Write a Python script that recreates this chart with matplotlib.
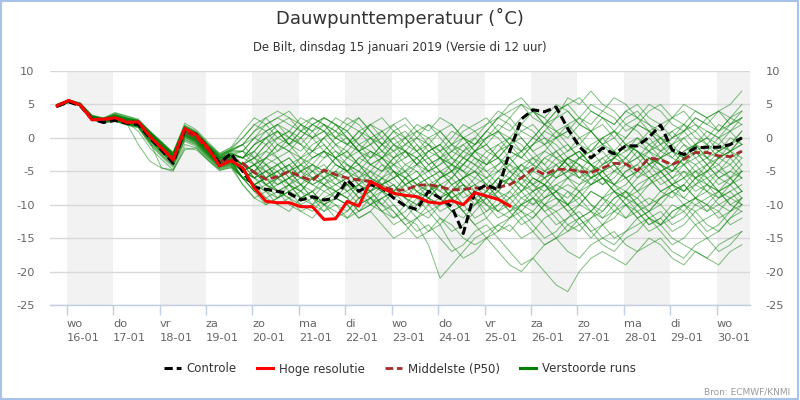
import numpy as np
import matplotlib
matplotlib.use('Agg')
import matplotlib.pyplot as plt
from matplotlib.lines import Line2D
from matplotlib.patches import Rectangle

# ---------------- data ----------------
# lead times (hours after 15-01 12 UTC), 6-hourly
lead_hours = list(range(6, 361, 6))
day_names = ['wo', 'do', 'vr', 'za', 'zo', 'ma', 'di', 'wo', 'do', 'vr', 'za', 'zo', 'ma', 'di', 'wo']
day_dates = ['16-01', '17-01', '18-01', '19-01', '20-01', '21-01', '22-01', '23-01',
             '24-01', '25-01', '26-01', '27-01', '28-01', '29-01', '30-01']
y_ticks = [10, 5, 0, -5, -10, -15, -20, -25]

controle = [4.7, 5.4, 4.8, 2.8, 2.3, 2.6, 2.2, 2.0, 0.0, -1.8, -3.8, 1.2, 0.5, -1.5, -3.8, -2.3,
            -5.0, -7.4, -7.7, -8.0, -8.3, -9.3, -8.8, -9.3, -9.0, -6.3, -8.0, -7.0, -7.5, -9.0,
            -10.2, -10.7, -8.0, -9.0, -10.3, -14.3, -8.0, -7.0, -7.8, -2.0, 2.8, 4.2, 3.9, 4.6,
            1.4, -1.3, -3.0, -1.5, -2.4, -1.2, -1.2, 0.1, 1.9, -1.8, -2.5, -1.5, -1.4, -1.4, -1.0, 0.0]

hoge_resolutie = [4.8, 5.6, 4.9, 2.7, 2.8, 3.0, 2.3, 2.4, 0.2, -1.5, -3.3, 1.4, 0.4, -1.5, -4.2, -3.4,
                  -4.5, -7.5, -9.5, -9.7, -9.7, -10.3, -10.3, -12.2, -12.1, -9.5, -10.2, -6.5, -7.5,
                  -8.3, -8.6, -8.8, -9.6, -9.8, -9.4, -10.0, -8.2, -8.7, -9.2, -10.2]

middelste = [4.8, 5.5, 5.0, 3.0, 2.6, 3.0, 2.5, 2.2, 0.3, -1.5, -3.0, 1.0, 0.0, -1.8, -3.6, -3.0,
             -3.8, -5.2, -6.2, -5.8, -5.0, -5.8, -6.4, -4.8, -5.5, -6.0, -6.3, -6.5, -7.3, -7.8,
             -7.8, -7.1, -7.0, -7.3, -7.8, -7.7, -7.5, -7.5, -7.4, -7.0, -6.0, -4.6, -5.5, -4.7,
             -4.7, -5.0, -5.2, -4.5, -3.8, -3.9, -4.9, -3.0, -3.3, -4.0, -3.2, -2.2, -2.2, -2.7, -2.8, -2.0]

verstoorde_runs = [
    [4.9,5.6,5.1,3.2,2.8,3.4,2.9,2.6,0.8,-0.9,-2.6,1.5,0.6,-1.2,-2.8,-1.9, -2,0,1,2, 1,3,2,1, 0,1,-1,-2, -3,-1,0,2, 1,3,2,0, -1,1,3,4, 5,3,2,4, 5,6,4,3, 2,4,3,1, 2,3,5,4, 3,4,5,7],
    [4.7,5.4,4.9,2.9,2.4,2.7,2.1,1.8,-0.2,-2.0,-3.5,0.4,-0.6,-2.4,-4.2,-3.8, -4,-5,-3,-2, 0,2,1,-1, -3,-2,-4,-6, -7,-5,-6,-8, -9,-10,-8,-7, -9,-12,-14,-13, -15,-14,-12,-11, -10,-12,-14,-16, -17,-15,-14,-12, -13,-15,-16,-17, -18,-16,-15,-14],
    [4.8,5.5,5.0,3.1,2.7,3.2,2.6,2.3,0.5,-1.2,-2.8,1.2,0.3,-1.6,-3.3,-2.6, -4,-6,-7,-6, -5,-4,-6,-7, -8,-7,-6,-8, -10,-12,-11,-9, -8,-7,-9,-11, -10,-8,-6,-7, -5,-3,-4,-2, -1,-3,-2,0, 1,-1,-2,-4, -3,-2,0,1, -1,-2,-1,0],
    [4.6,5.3,4.8,2.7,2.3,2.5,1.9,1.5,-1.0,-2.8,-4.4,-0.5,-1.3,-3.0,-4.6,-4.2, -6,-8,-9,-10, -9,-11,-10,-8, -9,-10,-12,-11, -13,-15,-14,-12, -11,-13,-16,-18, -17,-15,-13,-12, -10,-9,-11,-13, -12,-10,-8,-9, -7,-6,-8,-10, -9,-7,-6,-5, -7,-8,-6,-5],
    [5.0,5.7,5.2,3.4,3.0,3.8,3.2,2.7,1.0,-0.6,-2.2,1.9,1.0,-0.8,-2.4,-1.5, 0,2,3,1, -1,0,2,3, 2,0,-2,-1, -3,-4,-2,-3, -5,-4,-3,-1, 0,-2,-3,-1, 1,2,0,-1, -3,-2,-4,-5, -4,-6,-5,-3, -4,-6,-8,-7, -5,-4,-6,-8],
    [4.8,5.4,4.9,2.8,2.5,2.9,2.3,1.0,-1.5,-3.2,-4.8,-1.0,-1.5,-3.2,-4.8,-4.5, -7,-9,-8,-10, -11,-9,-8,-10, -12,-11,-9,-8, -7,-9,-10,-12, -14,-13,-11,-10, -8,-9,-7,-6, -8,-10,-9,-7, -6,-8,-10,-11, -9,-8,-10,-12, -11,-13,-12,-10, -11,-9,-8,-10],
    [4.9,5.5,5.0,3.0,2.6,3.1,2.7,2.4,0.6,-1.1,-2.7,1.3,0.5,-1.4,-3.0,-2.2, -3,-2,-4,-5, -4,-6,-5,-3, -2,-4,-5,-3, -1,0,-2,-4, -3,-5,-6,-4, -2,-3,-5,-6, -8,-7,-5,-4, -6,-5,-3,-2, -4,-3,-1,0, -2,-3,-1,-2, -4,-3,-2,-1],
    [4.7,5.4,5.0,3.0,2.5,2.8,2.2,-1.0,-3.5,-4.5,-4.8,-1.8,-1.5,-3.4,-4.9,-4.4, -6,-5,-7,-8, -7,-9,-10,-9, -8,-7,-9,-10, -11,-10,-12,-14, -13,-15,-17,-16, -14,-13,-15,-17, -19,-18,-16,-15, -17,-18,-16,-15, -14,-16,-17,-15, -16,-18,-19,-17, -18,-19,-17,-16],
    [4.8,5.6,5.1,3.3,2.9,3.5,3.0,2.5,0.9,-0.7,-2.4,1.7,0.8,-1.0,-2.6,-1.7, -1,1,2,3, 2,1,3,2, 0,-1,1,2, 0,-2,-1,1, 2,0,-2,-3, -1,0,2,1, 3,4,2,0, 1,3,5,4, 6,5,3,2, 1,3,4,2, 1,0,2,3],
    [4.8,5.5,4.9,3.0,2.6,3.0,2.4,2.1,0.1,-1.7,-3.2,0.8,-0.2,-2.0,-3.8,-3.2, -5,-6,-5,-7, -6,-5,-7,-8, -7,-6,-5,-6, -8,-9,-8,-7, -6,-8,-9,-8, -7,-6,-8,-9, -7,-5,-6,-8, -9,-7,-6,-5, -7,-8,-6,-4, -5,-7,-6,-4, -3,-5,-6,-4],
    [4.9,5.6,5.0,3.1,2.7,3.0,2.5,2.3,0.4,-1.4,-2.9,1.1,0.1,-1.7,-3.5,-2.9, -4,-3,-1,0, 1,-1,-2,0, 2,1,-1,-3, -2,0,1,-1, -3,-2,0,2, 1,-1,-3,-5, -4,-6,-7,-5, -3,-4,-6,-5, -3,-1,-2,-4, -6,-5,-3,-2, -4,-6,-5,-3],
    [4.7,5.4,4.9,2.9,2.5,2.8,2.3,2.0,0.0,-1.9,-3.6,0.2,-0.8,-2.6,-4.4,-4.0, -6,-7,-6,-8, -9,-10,-9,-7, -8,-9,-11,-10, -9,-11,-13,-12, -10,-9,-11,-12, -10,-8,-9,-11, -13,-12,-10,-9, -11,-13,-12,-10, -8,-9,-11,-10, -8,-7,-9,-10, -9,-8,-10,-11],
    [5.0,5.6,5.1,3.2,2.8,3.3,2.8,2.4,0.7,-1.0,-2.5,1.4,0.4,-1.3,-3.1,-2.4, -3,-4,-3,-1, -2,-4,-3,-2, -4,-5,-3,-2, -4,-6,-5,-3, -2,-1,-3,-4, -2,0,1,-1, -2,0,2,1, -1,-3,-2,0, 1,-1,-3,-2, 0,1,-1,-3, -2,0,1,-1],
    [4.8,5.5,5.0,3.0,2.6,3.0,2.6,2.2,0.2,-1.6,-3.1,0.9,-0.1,-1.9,-3.7,-3.1, -5,-4,-6,-5, -7,-8,-6,-5, -6,-8,-7,-9, -10,-8,-7,-9, -11,-10,-8,-6, -5,-7,-8,-6, -4,-3,-5,-6, -4,-5,-7,-6, -8,-7,-5,-6, -8,-9,-7,-5, -6,-8,-7,-5],
    [4.9,5.5,5.1,3.1,2.7,3.1,2.6,2.3,0.5,-1.3,-2.9,1.0,0.2,-1.6,-3.4,-2.8, -3,-1,0,-2, -1,1,0,-2, -3,-1,-2,-4, -5,-3,-2,-4, -6,-5,-7,-9, -8,-10,-12,-11, -9,-8,-10,-12, -14,-13,-15,-13, -12,-10,-11,-13, -12,-14,-13,-11, -10,-12,-11,-9],
    [4.6,5.3,4.8,2.8,2.4,2.6,2.0,1.7,-0.5,-2.3,-3.9,0.0,-0.9,-2.7,-4.3,-3.9, -5,-7,-8,-7, -6,-8,-9,-11, -10,-12,-11,-9, -8,-10,-12,-13, -16,-21,-19,-17, -15,-14,-13,-14, -12,-11,-13,-15, -14,-12,-11,-13, -15,-14,-12,-11, -13,-12,-10,-9, -11,-10,-9,-8],
    [4.8,5.5,5.0,3.0,2.7,3.2,2.7,2.3,0.4,-1.3,-2.9,1.1,0.3,-1.5,-3.3,-2.6, -2,0,2,3, 4,2,1,3, 2,0,-2,-1, 1,2,0,-2, -4,-3,-1,0, -2,-4,-3,-1, 0,-2,-4,-6, -5,-3,-4,-6, -7,-5,-4,-2, -3,-5,-4,-6, -5,-3,-2,-4],
    [4.7,5.4,4.9,2.9,2.5,2.9,2.4,2.0,0.1,-1.8,-3.4,0.6,-0.4,-2.2,-4.0,-3.5, -6,-8,-7,-6, -8,-9,-8,-10, -9,-7,-8,-10, -9,-8,-6,-7, -9,-10,-8,-7, -9,-11,-10,-8, -6,-7,-9,-8, -6,-4,-5,-7, -6,-4,-3,-5, -7,-6,-4,-3, -5,-7,-6,-8],
    [4.9,5.6,5.1,3.2,2.8,3.3,2.8,2.5,0.7,-0.9,-2.5,1.6,0.7,-1.1,-2.9,-2.0, -2,-3,-1,1, 0,-1,1,2, 1,3,2,0, -1,1,0,-2, -1,1,2,0, -2,-1,1,3, 5,4,2,3, 6,5,7,5, 4,2,3,5, 4,2,1,3, 2,4,3,5],
    [4.8,5.5,4.9,3.0,2.6,2.9,2.4,2.1,0.2,-1.6,-3.2,0.8,-0.2,-2.0,-3.7,-3.2, -5,-4,-5,-6, -5,-7,-6,-5, -7,-6,-8,-7, -6,-5,-7,-8, -7,-9,-8,-10, -12,-11,-9,-10, -12,-14,-16,-15, -13,-12,-14,-13, -11,-10,-12,-14, -13,-11,-10,-12, -14,-13,-11,-10],
    [5.0,5.7,5.2,3.3,2.9,3.6,3.1,2.6,0.9,-0.8,-2.3,1.8,0.9,-0.9,-2.5,-1.8, -1,-3,-2,0, 1,0,-2,-3, -1,0,-2,-4, -3,-1,-2,-3, -5,-4,-2,-1, -3,-5,-4,-2, -3,-1,0,-2, -4,-3,-1,0, -2,-4,-3,-1, 0,-2,-3,-1, 1,0,-2,-3],
    [4.7,5.4,4.9,2.8,2.4,2.7,2.2,1.8,-0.3,-2.1,-3.7,0.3,-0.6,-2.5,-4.1,-3.7, -5,-6,-8,-9, -8,-7,-9,-10, -11,-12,-10,-9, -11,-13,-12,-10, -9,-11,-10,-8, -7,-9,-11,-10, -8,-6,-7,-9, -10,-8,-6,-5, -7,-9,-8,-6, -5,-7,-8,-6, -4,-6,-7,-5],
    [4.8,5.5,5.0,3.1,2.6,3.0,2.5,2.2,0.3,-1.5,-3.0,1.0,0.0,-1.8,-3.6,-3.0, -4,-3,-5,-6, -4,-3,-5,-6, -5,-3,-4,-6, -7,-6,-4,-5, -7,-8,-6,-4, -5,-7,-9,-8, -10,-11,-9,-8, -10,-12,-11,-9, -8,-10,-12,-11, -9,-8,-10,-9, -7,-8,-10,-9],
    [4.9,5.6,5.0,3.2,2.8,3.2,2.7,2.4,0.6,-1.1,-2.7,1.3,0.4,-1.4,-3.1,-2.4, -3,-1,1,2, 0,-1,-3,-2, 0,2,3,1, -1,-3,-5,-4, -2,-1,-3,-5, -6,-4,-3,-5, -7,-8,-6,-5, -3,-2,-4,-6, -5,-3,-1,-2, -4,-5,-3,-1, -2,-3,-1,1],
    [4.7,5.3,4.8,2.7,2.3,2.5,2.0,1.6,-0.8,-2.6,-4.2,-0.3,-1.1,-2.9,-4.5,-4.1, -7,-9,-10,-9, -8,-10,-11,-9, -10,-11,-9,-8, -10,-11,-13,-15, -14,-12,-13,-15, -16,-15,-17,-19, -20,-18,-20,-22, -23,-20,-18,-17, -18,-19,-17,-16, -15,-17,-18,-16, -15,-17,-16,-14],
    [4.8,5.5,5.0,3.0,2.6,3.1,2.6,2.2,0.4,-1.4,-3.0,1.0,0.1,-1.7,-3.5,-2.9, -4,-2,0,1, -1,-2,0,1, -1,-3,-2,0, 1,-1,-3,-2, -4,-6,-5,-3, -2,0,1,-1, 2,4,3,1, 0,2,4,3, 1,0,2,1, -1,1,2,0, -1,1,3,2],
    [4.9,5.5,5.1,3.1,2.7,3.1,2.6,2.3,0.5,-1.2,-2.8,1.2,0.3,-1.5,-3.2,-2.6, -4,-5,-4,-6, -7,-5,-4,-6, -7,-8,-7,-5, -6,-8,-9,-7, -6,-5,-7,-6, -4,-5,-7,-6, -4,-5,-3,-2, -4,-6,-5,-3, -2,-4,-5,-3, -4,-6,-5,-7, -8,-6,-5,-6],
    [4.6,5.3,4.8,2.7,2.3,2.6,2.1,1.7,-0.6,-4.5,-5.0,-1.5,-1.8,-3.3,-4.7,-4.3, -6,-7,-9,-8, -10,-11,-12,-10, -9,-10,-12,-11, -9,-8,-10,-11, -9,-7,-8,-10, -9,-8,-6,-7, -9,-10,-8,-7, -8,-10,-11,-9, -10,-12,-11,-13, -12,-10,-11,-13, -12,-11,-13,-12],
    [5.0,5.6,5.2,3.3,2.9,3.4,2.9,2.5,0.8,-0.8,-2.4,1.5,0.6,-1.2,-2.8,-2.0, -1,1,3,4, 3,2,0,1, 3,2,1,-1, 0,2,3,1, 0,-2,-1,1, 2,3,1,0, 2,1,-1,0, 2,3,1,-1, 0,2,1,-1, -2,0,1,-1, 0,2,1,3],
    [4.8,5.4,4.9,2.9,2.5,2.8,2.3,2.0,-0.1,-1.9,-3.5,0.5,-0.5,-2.3,-4.0,-3.5, -6,-7,-6,-5, -7,-6,-4,-5, -6,-4,-5,-7, -8,-7,-9,-10, -8,-7,-9,-11, -13,-12,-10,-9, -11,-12,-10,-11, -13,-14,-12,-11, -9,-8,-10,-11, -9,-8,-7,-9, -10,-8,-9,-10],
    [4.9,5.6,5.1,3.2,2.8,3.7,3.3,2.8,1.0,-0.6,-2.2,2.2,1.2,-0.6,-2.3,-1.4, 1,3,2,0, -1,1,2,3, 2,1,3,1, -1,-2,0,1, -1,-3,-4,-2, -1,1,3,2, 0,-2,-1,1, 2,0,-2,-1, 1,3,4,2, 0,-1,1,2, 0,-2,-1,1],
    [4.7,5.4,4.9,2.9,2.5,2.9,2.4,2.1,0.2,-1.7,-3.3,0.6,-0.3,-2.1,-3.9,-3.4, -5,-6,-4,-3, -5,-6,-7,-6, -4,-5,-7,-8, -6,-4,-5,-7, -8,-6,-5,-7, -8,-9,-7,-5, -6,-8,-7,-5, -3,-4,-6,-7, -5,-6,-8,-7, -5,-4,-6,-8, -7,-5,-4,-6],
    [4.8,5.5,5.0,3.0,2.6,3.0,2.5,2.2,0.3,-1.5,-3.1,0.9,-0.1,-1.9,-3.7,-3.1, -4,-6,-5,-4, -3,-5,-4,-2, -3,-5,-6,-4, -3,-5,-7,-6, -4,-3,-5,-7, -9,-10,-8,-6, -7,-9,-10,-8, -7,-8,-10,-12, -11,-9,-10,-12, -13,-11,-10,-11, -13,-14,-12,-11],
    [4.9,5.6,5.0,3.1,2.7,3.2,2.7,2.4,0.6,-1.1,-2.6,1.4,0.5,-1.3,-3.0,-2.3, -2,-4,-3,-1, -2,-3,-1,0, -2,-3,-1,0, -2,-4,-3,-1, -3,-5,-4,-2, -3,-4,-2,0, -1,-3,-2,0, 1,-1,-2,-4, -3,-1,0,-2, -1,-3,-4,-2, -1,-3,-2,0],
    [4.7,5.3,4.8,2.8,2.4,2.6,2.1,1.8,-0.4,-2.2,-3.8,0.1,-0.8,-2.6,-4.2,-3.8, -6,-8,-10,-9, -7,-8,-10,-11, -9,-8,-10,-9, -11,-12,-10,-8, -10,-12,-14,-13, -11,-9,-8,-10, -11,-9,-7,-8, -10,-9,-7,-6, -8,-10,-9,-7, -6,-8,-9,-7, -6,-8,-7,-9],
    [5.0,5.7,5.1,3.2,2.8,3.4,2.9,2.6,0.8,-0.9,-2.5,1.6,0.7,-1.1,-2.7,-1.9, -1,0,-1,-3, -2,0,2,1, -1,-2,0,2, 3,1,-1,-2, 0,1,-1,-3, -4,-2,-1,-3, -5,-4,-2,-3, -5,-6,-4,-3, -5,-4,-2,-3, -5,-4,-2,-1, -3,-4,-2,-1],
    [4.8,5.5,5.0,3.0,2.6,3.0,2.5,2.1,0.2,-1.6,-3.1,0.8,-0.2,-2.0,-3.8,-3.3, -5,-7,-6,-8, -9,-8,-6,-7, -9,-10,-8,-7, -8,-9,-7,-6, -8,-9,-11,-10, -8,-7,-5,-4, -6,-5,-3,-4, -6,-7,-5,-4, -2,-3,-5,-4, -2,-1,-3,-5, -4,-2,-3,-5],
    [4.8,5.5,4.9,2.9,2.5,2.8,2.3,1.9,-0.2,-2.0,-3.6,0.4,-0.5,-2.3,-4.1,-3.6, -6,-5,-7,-8, -7,-9,-8,-6, -5,-7,-9,-8, -6,-7,-9,-11, -12,-10,-9,-11, -13,-15,-14,-12, -11,-13,-15,-14, -12,-11,-13,-15, -16,-14,-13,-12, -14,-16,-15,-13, -15,-14,-12,-10],
    [4.9,5.6,5.1,3.2,2.8,3.3,2.8,2.4,0.6,-1.0,-2.6,1.4,0.5,-1.3,-3.0,-2.3, -3,-2,0,1, -1,-3,-2,0, 1,0,-2,-3, -1,1,2,0, -1,-3,-2,0, 1,2,4,3, 1,0,2,4, 5,3,2,4, 3,1,2,4, 5,3,2,1, 3,4,2,3],
    [4.7,5.4,4.9,2.9,2.5,2.8,2.3,2.0,0.0,-1.8,-3.4,0.5,-0.4,-2.2,-4.0,-3.4, -5,-4,-6,-7, -6,-4,-5,-7, -6,-5,-7,-8, -7,-6,-8,-9, -7,-6,-4,-5, -7,-8,-6,-4, -5,-7,-6,-4, -3,-5,-6,-4, -3,-4,-6,-5, -3,-2,-4,-6, -5,-3,-4,-2],
    [4.8,5.5,5.0,3.0,2.6,3.1,2.6,2.3,0.4,-1.3,-2.9,1.1,0.2,-1.6,-3.4,-2.8, -4,-5,-3,-4, -6,-5,-3,-2, -4,-5,-3,-4, -5,-3,-2,-4, -5,-3,-4,-6, -5,-3,-1,0, -2,-1,1,0, -2,-1,1,2, 0,-2,-1,1, 0,-2,-3,-1, 0,-1,1,2],
    [4.6,5.3,4.8,2.7,2.3,2.5,2.0,1.6,-0.7,-2.5,-4.1,-0.2,-1.0,-2.8,-4.4,-4.0, -6,-5,-7,-9, -8,-7,-9,-10, -8,-9,-11,-10, -8,-7,-9,-10, -8,-9,-7,-6, -8,-10,-11,-9, -8,-6,-7,-9, -11,-10,-8,-9, -11,-12,-10,-9, -10,-12,-11,-9, -8,-10,-11,-9],
    [5.0,5.6,5.1,3.3,2.9,3.5,3.0,2.6,0.9,-0.7,-2.3,1.7,0.8,-1.0,-2.6,-1.7, 0,2,1,-1, 0,2,3,2, 0,-1,1,0, -2,-3,-1,0, -2,-1,1,0, -1,1,0,-2, -3,-1,1,3, 4,2,1,-1, -2,0,2,1, -1,0,2,4, 3,1,2,4],
    [4.8,5.5,5.0,3.0,2.6,2.9,2.4,2.1,0.2,-1.6,-3.2,0.7,-0.3,-2.1,-3.9,-3.3, -5,-6,-5,-4, -6,-7,-5,-4, -6,-7,-6,-5, -7,-8,-6,-5, -7,-9,-8,-6, -5,-6,-4,-3, -5,-7,-8,-6, -5,-3,-4,-6, -7,-5,-4,-6, -8,-7,-5,-6, -8,-9,-7,-6],
    [4.9,5.5,5.0,3.1,2.7,3.1,2.6,2.2,0.4,-1.4,-3.0,1.0,0.1,-1.7,-3.4,-2.8, -4,-5,-6,-4, -3,-5,-6,-5, -3,-4,-6,-7, -5,-4,-6,-8, -9,-7,-6,-8, -10,-9,-11,-12, -10,-9,-11,-10, -8,-9,-11,-12, -10,-8,-9,-11, -10,-8,-7,-9, -10,-11,-9,-8],
    [4.7,5.4,4.9,2.8,2.4,2.7,2.2,1.9,-0.3,-2.1,-3.7,0.3,-0.6,-2.4,-4.2,-3.7, -5,-4,-2,-3, -5,-4,-2,-1, -3,-5,-4,-2, -3,-5,-6,-4, -2,-3,-5,-4, -2,-1,-3,-4, -2,0,-1,-3, -2,0,1,-1, -3,-2,0,-1, -3,-4,-2,-1, -3,-2,0,-1],
    [4.8,5.5,5.0,3.0,2.6,3.0,2.5,2.2,0.3,-1.5,-3.0,1.0,0.0,-1.8,-3.6,-3.0, -5,-7,-8,-6, -5,-7,-8,-7, -5,-6,-8,-9, -7,-6,-5,-7, -8,-6,-5,-3, -4,-6,-5,-3, -2,-4,-5,-3, -4,-6,-7,-5, -4,-6,-5,-3, -4,-5,-3,-4, -6,-5,-3,-2],
    [4.9,5.6,5.1,3.2,2.8,3.3,2.8,2.4,0.6,-1.1,-2.7,1.3,0.4,-1.4,-3.1,-2.5, -3,-1,0,2, 3,1,0,2, 1,-1,0,2, 1,-1,-2,0, 2,1,-1,-2, 0,2,3,5, 6,4,3,5, 4,2,1,3, 2,4,5,3, 2,0,1,3, 2,1,3,4],
    [4.7,5.4,4.9,2.9,2.5,2.8,2.3,2.0,0.0,-1.8,-3.4,0.5,-0.4,-2.2,-4.0,-3.4, -6,-7,-6,-5, -4,-6,-7,-6, -8,-9,-7,-6, -4,-5,-7,-6, -5,-7,-9,-8, -6,-7,-9,-11, -10,-8,-7,-9, -10,-8,-7,-6, -8,-9,-7,-6, -5,-7,-8,-6, -7,-9,-8,-7],
    [4.8,5.5,5.0,3.1,2.7,3.0,2.5,2.2,0.3,-1.4,-3.0,1.0,0.1,-1.7,-3.5,-2.9, -4,-3,-4,-6, -5,-3,-4,-5, -3,-2,-4,-5, -3,-2,-4,-3, -1,-2,-4,-5, -3,-4,-2,-1, -3,-4,-6,-5, -3,-2,-4,-5, -3,-1,-2,-4, -3,-1,0,-2, -3,-1,-2,0],
]

# ---------------- figure ----------------
plt.rcParams['font.family'] = ['DejaVu Sans']
fig = plt.figure(figsize=(8, 4), dpi=100)
fig.patch.set_facecolor('white')
ax = fig.add_axes([50 / 800, 95 / 400, 700 / 800, 234 / 400])

# x positions in days after 16-01 00h local time (UTC+1)
x_all = (np.array(lead_hours) - 11) / 24.0

# alternating day bands
for d in range(0, len(day_dates), 2):
    ax.axvspan(d, d + 1, color='#f2f2f2', lw=0, zorder=0)

for run in verstoorde_runs:
    ax.plot(x_all[:len(run)], run, color='#008000', lw=0.75, alpha=0.48, zorder=2)

ax.plot(x_all[:len(middelste)], middelste, color='#a52a2a', lw=2.0,
        dashes=(2.8, 1.3), zorder=3)
ax.plot(x_all[:len(controle)], controle, color='black', lw=2.2,
        dashes=(2.7, 1.3), zorder=4)
ax.plot(x_all[:len(hoge_resolutie)], hoge_resolutie, color='#ff0000', lw=2.2, zorder=5)

ax.set_xlim(-0.36, 14.717)
ax.set_ylim(-25, 10)

ax.set_yticks(y_ticks)
ax.set_yticklabels([str(v) for v in y_ticks])
ax.yaxis.grid(True, color='#d8d8d8', lw=1)
ax.set_axisbelow(True)
ax.tick_params(axis='y', length=0, labelleft=True, labelright=True,
               labelsize=8.2, labelcolor='#666666', pad=11)

ax.set_xticks(range(len(day_dates)))
ax.set_xticklabels([f'{n}\n{d}' for n, d in zip(day_names, day_dates)],
                   ha='left', linespacing=1.55)
ax.tick_params(axis='x', length=7, width=1, color='#c0d0e0', direction='out',
               labelsize=8.2, labelcolor='#666666', pad=3)

for s in ['top', 'left', 'right']:
    ax.spines[s].set_visible(False)
ax.spines['bottom'].set_color('#c0d0e0')
ax.spines['bottom'].set_linewidth(1)

# titles
fig.text(0.5, 1 - 18 / 400, 'Dauwpunttemperatuur (˚C)', ha='center', va='center',
         fontsize=13, color='#333333')
fig.text(0.5, 1 - 47 / 400, 'De Bilt, dinsdag 15 januari 2019 (Versie di 12 uur)',
         ha='center', va='center', fontsize=8.4, color='#333333')

# legend
handles = [
    Line2D([], [], color='black', lw=2.2, dashes=(2.7, 1.3)),
    Line2D([], [], color='#ff0000', lw=2.2),
    Line2D([], [], color='#a52a2a', lw=2.0, dashes=(2.8, 1.3)),
    Line2D([], [], color='#008000', lw=2.2),
]
labels = ['Controle', 'Hoge resolutie', 'Middelste (P50)', 'Verstoorde runs']
fig.legend(handles, labels, loc='center', bbox_to_anchor=(0.5, 1 - 369 / 400), ncol=4,
           frameon=False, fontsize=8.5, handlelength=1.4, handletextpad=0.5,
           columnspacing=1.7, labelcolor='#333333')

fig.text(790 / 800, 1 - 392 / 400, 'Bron: ECMWF/KNMI', ha='right', va='center',
         fontsize=6.5, color='#999999')

fig.add_artist(Rectangle((0.001, 0.002), 0.997, 0.996, transform=fig.transFigure,
                         fill=False, edgecolor='#a7c4e8', lw=1.5))

fig.savefig('out.png', dpi=100)
